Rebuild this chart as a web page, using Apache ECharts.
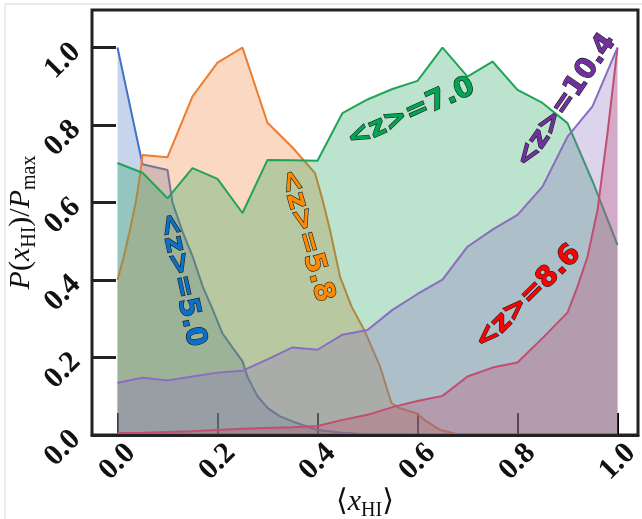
<!DOCTYPE html>
<html><head><meta charset="utf-8">
<script src="https://cdn.jsdelivr.net/npm/echarts@6/dist/echarts.min.js"></script>
<style>html,body{margin:0;padding:0;background:#fff}#c{width:642px;height:519px}</style>
</head><body><div id="c"></div><script>
// ---- data ----
const xTicks = [0, 0.2, 0.4, 0.6, 0.8, 1.0];
const yTicks = [0, 0.2, 0.4, 0.6, 0.8, 1.0];

const blueX = [0, 0.05, 0.1, 0.11, 0.13, 0.15, 0.17, 0.19, 0.21, 0.25, 0.26, 0.28, 0.3, 0.325, 0.35, 0.4, 0.45, 0.5, 0.6, 0.8, 1.0];
const blueY = [1.0, 0.699, 0.684, 0.60, 0.525, 0.462, 0.385, 0.325, 0.262, 0.19, 0.15, 0.10, 0.07, 0.048, 0.035, 0.013, 0.006, 0.002, 0.0, 0.0, 0.0];

const orangeX = [0, 0.0125, 0.025, 0.0375, 0.045, 0.05, 0.1, 0.15, 0.2, 0.25, 0.3, 0.35, 0.395, 0.41, 0.425, 0.445, 0.468, 0.495, 0.525, 0.548, 0.565, 0.598, 0.618, 0.645, 0.685, 0.8, 1.0];
const orangeY = [0.40, 0.46, 0.53, 0.607, 0.67, 0.723, 0.717, 0.874, 0.961, 1.0, 0.806, 0.742, 0.676, 0.607, 0.529, 0.409, 0.332, 0.267, 0.177, 0.082, 0.069, 0.056, 0.035, 0.013, 0.001, 0.0, 0.0];

const greenX = [0, 0.05, 0.1, 0.15, 0.2, 0.25, 0.3, 0.35, 0.4, 0.45, 0.5, 0.55, 0.6, 0.65, 0.7, 0.75, 0.8, 0.85, 0.9, 0.95, 1.0];
const greenY = [0.702, 0.677, 0.611, 0.689, 0.661, 0.573, 0.710, 0.709, 0.708, 0.831, 0.866, 0.893, 0.914, 1.0, 0.925, 0.964, 0.891, 0.857, 0.805, 0.655, 0.491];

const redX = [0, 0.05, 0.1, 0.15, 0.2, 0.25, 0.3, 0.35, 0.4, 0.45, 0.5, 0.55, 0.6, 0.65, 0.7, 0.75, 0.8, 0.85, 0.9, 0.92, 0.94, 0.96, 0.98, 1.0];
const redY = [0.005, 0.006, 0.008, 0.010, 0.013, 0.016, 0.018, 0.020, 0.023, 0.039, 0.052, 0.072, 0.088, 0.101, 0.151, 0.174, 0.187, 0.250, 0.316, 0.383, 0.46, 0.58, 0.78, 1.0];

const purpleX = [0, 0.05, 0.1, 0.15, 0.2, 0.25, 0.3, 0.35, 0.4, 0.45, 0.5, 0.55, 0.6, 0.65, 0.7, 0.75, 0.8, 0.85, 0.9, 0.95, 1.0];
const purpleY = [0.135, 0.148, 0.141, 0.151, 0.161, 0.166, 0.195, 0.226, 0.220, 0.259, 0.271, 0.323, 0.364, 0.401, 0.486, 0.530, 0.568, 0.641, 0.770, 0.848, 1.0];

const labelTexts = ['<z>=5.0', '<z>=5.8', '<z>=7.0', '<z>=8.6', '<z>=10.4'];

// ---- styling / layout ----
const zip = (xs, ys) => xs.map((x, i) => [x, ys[i]]);
const seriesDefs = [
  {name: '5.0', data: zip(blueX, blueY), line: '#4472c4'},
  {name: '5.8', data: zip(orangeX, orangeY), line: '#ed7d31'},
  {name: '7.0', data: zip(greenX, greenY), line: '#22a35a'},
  {name: '8.6', data: zip(redX, redY), line: '#d8404e'},
  {name: '10.4', data: zip(purpleX, purpleY), line: '#8a6cc0'}
];
// annotation anchors (data units), rotation (deg, CCW), text colour
const annot = [
  {pos: [0.128, 0.40], rot: -77.5, color: '#0a70c8'},
  {pos: [0.377, 0.514], rot: -74, color: '#ff8a00'},
  {pos: [0.587, 0.831], rot: 24, color: '#00a651'},
  {pos: [0.821, 0.355], rot: 44.5, color: '#ff0000'},
  {pos: [0.897, 0.862], rot: 55.5, color: '#7030a0'}
];

const serif = '"Liberation Serif", "DejaVu Serif", serif';
const titleRich = {
  t: {fontFamily: serif, fontSize: 30, color: '#111', lineHeight: 38, verticalAlign: 'middle'},
  i: {fontFamily: serif, fontSize: 30, fontStyle: 'italic', color: '#111', lineHeight: 38, verticalAlign: 'middle'},
  s: {fontFamily: serif, fontSize: 20, color: '#111', lineHeight: 20, verticalAlign: 'bottom'}
};
const XMIN = -0.051, XMAX = 1.041, YMIN = 0, YMAX = 1.097;

const chart = echarts.init(document.getElementById('c'), null, {renderer: 'canvas'});
chart.setOption({
  animation: false,
  backgroundColor: '#fff',
  grid: {left: 92, right: 4, top: 10, bottom: 84, containLabel: false, outerBoundsMode: 'none',
    show: true, borderColor: '#222', borderWidth: 3, backgroundColor: 'transparent'},
  xAxis: [{
    type: 'value', min: XMIN, max: XMAX, z: 0,
    splitLine: {show: false},
    axisLine: {show: false, onZero: false},
    axisTick: {show: true, inside: true, length: 22, customValues: xTicks, lineStyle: {color: '#000', width: 2}},
    axisLabel: {customValues: xTicks, rotate: 45, align: 'center', verticalAlign: 'middle', margin: 27,
      fontFamily: serif, fontWeight: 'bold', fontSize: 30, color: '#111', formatter: v => v.toFixed(1)},
    name: '{t|⟨}{i|x}{s|HI}{t|⟩}', nameLocation: 'middle', nameGap: 48, nameMoveOverlap: false,
    nameTextStyle: {rich: titleRich}
  }, {
    type: 'value', min: XMIN, max: XMAX, position: 'bottom', z: 10,
    splitLine: {show: false}, axisTick: {show: false}, axisLabel: {show: false},
    axisLine: {show: true, onZero: false, lineStyle: {color: '#222', width: 3}}
  }],
  yAxis: {
    type: 'value', min: YMIN, max: YMAX,
    splitLine: {show: false},
    axisLine: {show: false, onZero: false},
    axisTick: {show: true, inside: true, length: 24, customValues: yTicks, lineStyle: {color: '#222', width: 3}},
    axisLabel: {customValues: yTicks, rotate: 45, margin: 16,
      fontFamily: serif, fontWeight: 'bold', fontSize: 30, color: '#111', formatter: v => v.toFixed(1)},
    name: '{i|P}{t|(}{i|x}{s|HI}{t|)/}{i|P}{s|max}', nameLocation: 'middle', nameGap: 52, nameMoveOverlap: false,
    nameTextStyle: {rich: titleRich}
  },
  series: seriesDefs.map((s, k) => ({
    type: 'line', name: s.name, data: s.data, xAxisIndex: 0, yAxisIndex: 0,
    showSymbol: false, symbol: 'none', z: 2 + k * 0.01,
    lineStyle: {color: s.line, width: 2},
    itemStyle: {color: s.line},
    areaStyle: {color: s.line, opacity: 0.3, origin: 'start'}
  }))
});

const graphics = [{
  type: 'rect', shape: {x: 5, y: 4, width: 700, height: 600}, silent: true, z: -1,
  style: {fill: 'none', stroke: '#d9d9d9', lineWidth: 1}
}];
annot.forEach((a, i) => {
  const p = chart.convertToPixel({xAxisIndex: 0, yAxisIndex: 0}, a.pos);
  graphics.push({
    type: 'text', x: p[0], y: p[1], rotation: a.rot * Math.PI / 180, z: 100,
    style: {text: labelTexts[i], fill: a.color, stroke: '#1a1a1a', lineWidth: 1.2,
      font: 'bold 28px "DejaVu Sans", sans-serif', align: 'center', verticalAlign: 'middle'}
  });
});
chart.setOption({graphic: graphics});
</script></body></html>
